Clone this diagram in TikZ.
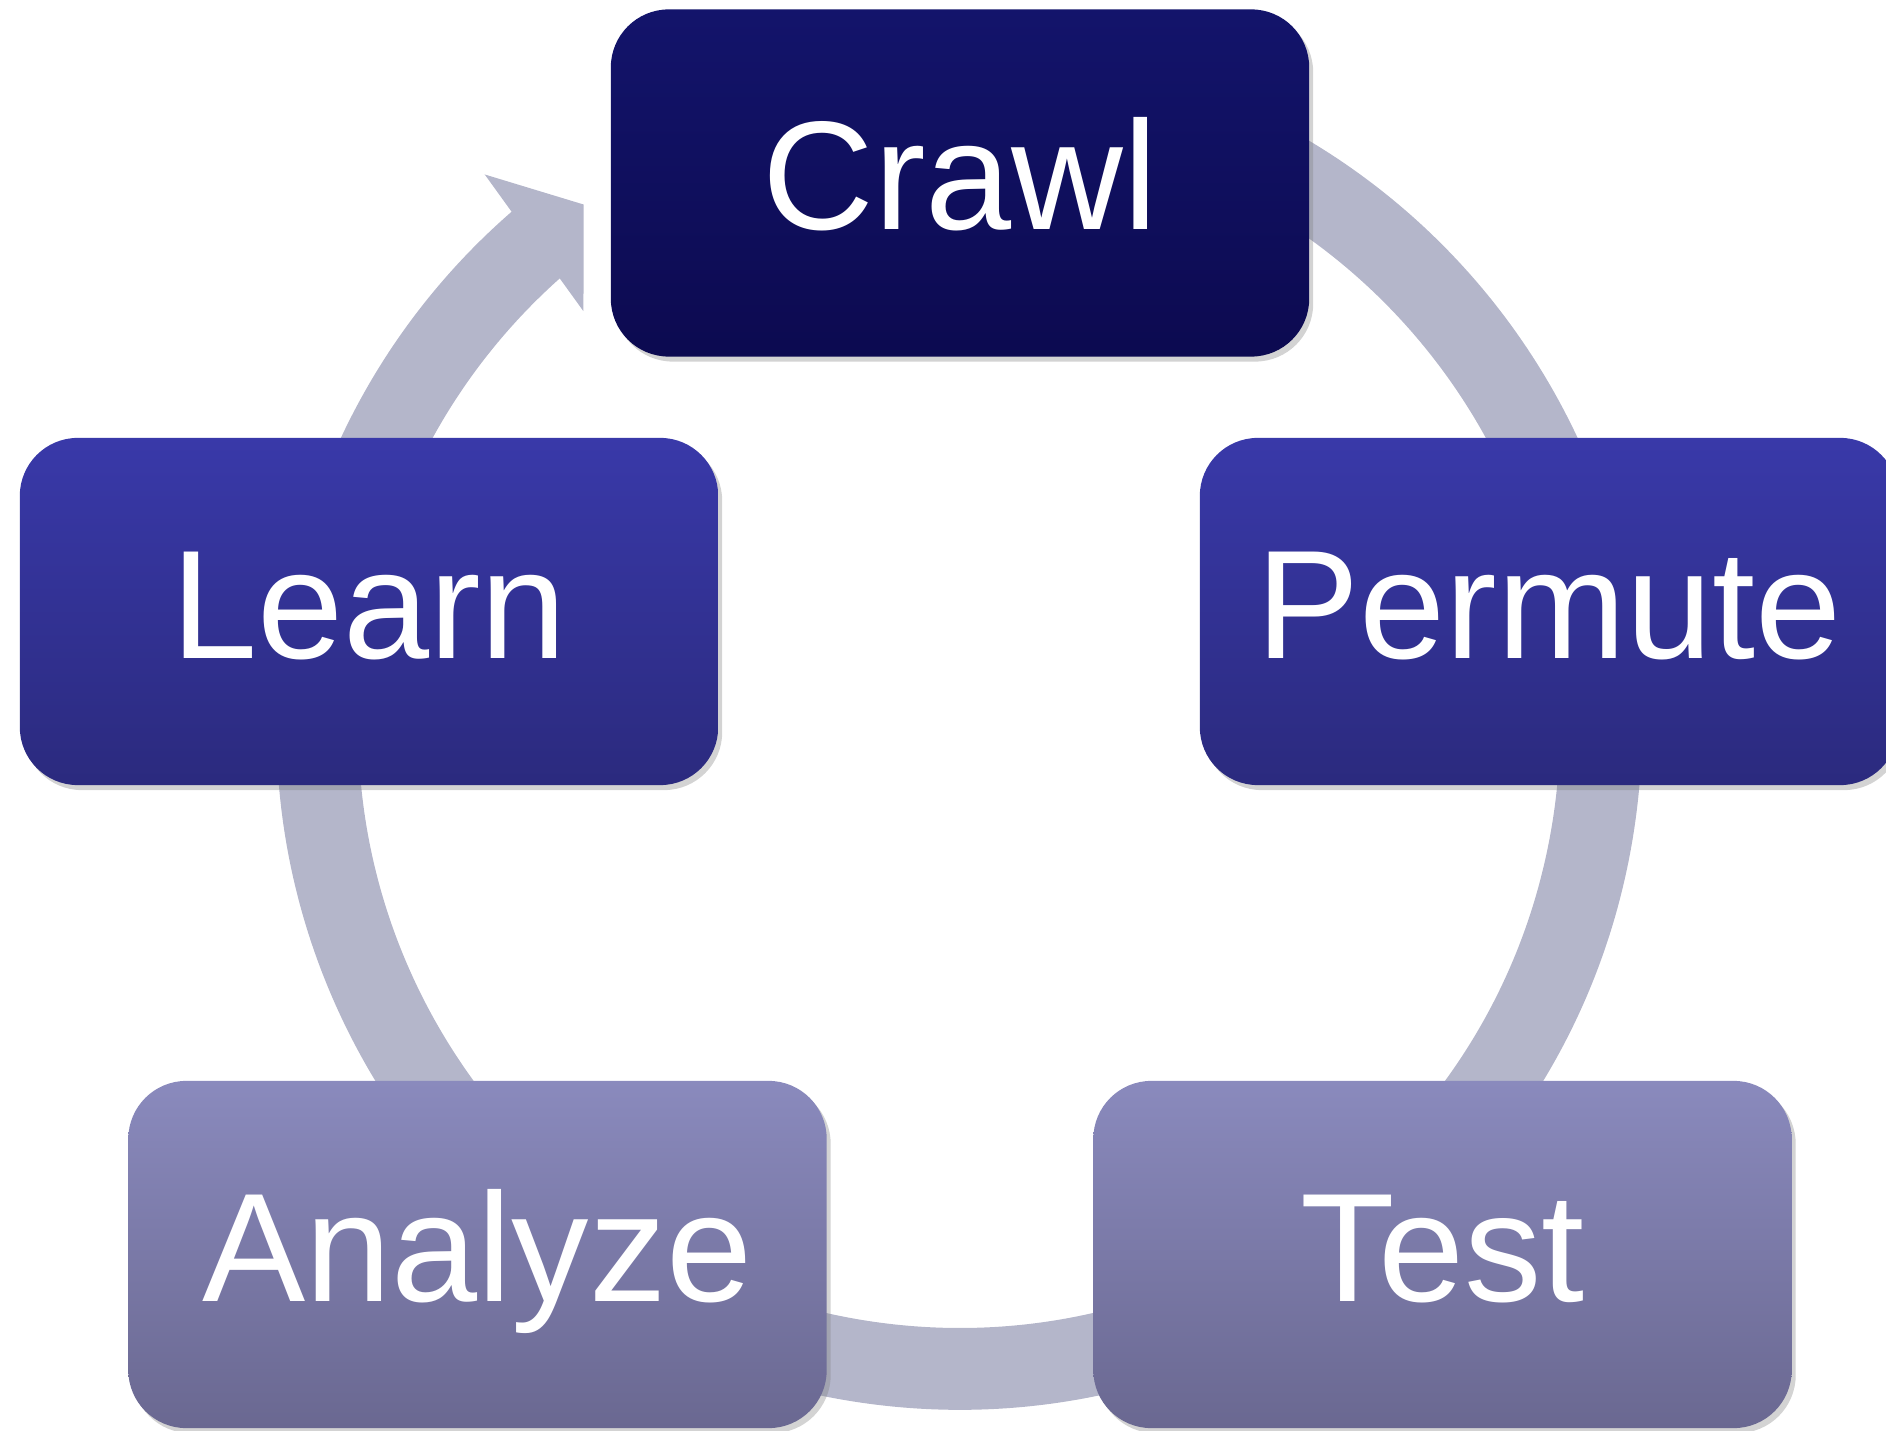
\documentclass[tikz,border=0pt]{standalone}
\usepackage{fontspec}
\setmainfont{Liberation Sans}
\usetikzlibrary{shadows}

\definecolor{crawltop}{HTML}{13146B}
\definecolor{crawlbot}{HTML}{0C0A50}
\definecolor{midtop}{HTML}{3939A9}
\definecolor{midbot}{HTML}{2B2A7E}
\definecolor{lowtop}{HTML}{8A8ABD}
\definecolor{lowbot}{HTML}{6A6891}
\definecolor{ringcol}{HTML}{B4B6CA}

\begin{document}
\begin{tikzpicture}[x=0.01cm, y=0.01cm,
        stage/.style={rounded corners=0.58cm, minimum width=6.98cm, minimum height=3.47cm,
            inner sep=0pt, text=white, font=\fontsize{44}{52}\selectfont,
            text height=0.93cm, text depth=0pt,
            drop shadow={opacity=0.35, shadow xshift=0.04cm, shadow yshift=-0.05cm}},
        ring/.style={draw=ringcol, line width=0.818cm, line cap=butt}]
        \useasboundingbox (0, 0) rectangle (1886, 1430);

        % the cycle behind the boxes
        \coordinate (hub) at (959.2, 702.9);
        \draw[ring] ([shift={(80:641.7)}]hub) arc[start angle=80, end angle=-229.5, radius=641.7];
        \fill[ringcol] ([shift={(130.65:728.4)}]hub) -- ([shift={(125.7:643.5)}]hub)
            -- ([shift={(132.1:560.5)}]hub) -- cycle;

        \node[stage, top color=crawltop, bottom color=crawlbot] (crawl) at (960, 1247) {Crawl};
        \node[stage, top color=midtop, bottom color=midbot] (permute) at (1549, 818.5) {Permute};
        \node[stage, top color=lowtop, bottom color=lowbot] (test) at (1442.5, 175.5) {Test};
        \node[stage, top color=lowtop, bottom color=lowbot] (analyze) at (477.5, 175.5) {Analyze};
        \node[stage, top color=midtop, bottom color=midbot] (learn) at (369, 818.5) {Learn};
    \end{tikzpicture}
\end{document}
